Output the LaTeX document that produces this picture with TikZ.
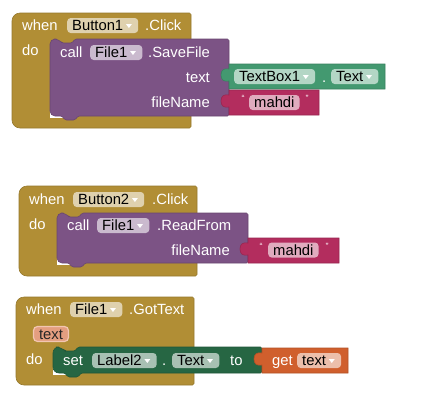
\documentclass[tikz,border=0pt]{standalone}
\usepackage{fontspec}
\setmainfont{Liberation Sans}
\usetikzlibrary{calc}
\definecolor{evgold}{HTML}{B18E35}
\definecolor{procpurple}{HTML}{7C5385}
\definecolor{getgreen}{HTML}{439970}
\definecolor{setgreen}{HTML}{266643}
\definecolor{strmag}{HTML}{B32D5E}
\definecolor{varorange}{HTML}{D05F2D}
\definecolor{chipfill}{HTML}{E49E80}
\definecolor{chipedge}{HTML}{F2C6B2}
\newcommand\ddarr[1]{\fill[white] ($(#1.east)+(-12.5,-1.5)$) -- ++(6,0) -- ++(-3,4) -- cycle;}
\newcommand\ddgap{\kern10pt}
\begin{document}
\begin{tikzpicture}[x=1pt,y=-1pt,
  lbl/.style={text=white, inner sep=0pt, anchor=west, text height=10.6pt, text depth=0pt, font=\fontsize{14.8}{16}\selectfont},
  rlbl/.style={lbl, anchor=east},
  quote/.style={text=white, inner sep=0pt, font=\fontsize{9}{10}\selectfont},
  fld/.style={fill=white, fill opacity=0.6, text opacity=1, text=black, rounded corners=3.5pt, inner xsep=5pt, inner ysep=0pt, minimum height=15pt, text height=10.6pt, text depth=0pt, anchor=west, font=\fontsize{14.8}{16}\selectfont},
  chip/.style={fill=chipfill, draw=chipedge, line width=1.2pt, rounded corners=4pt, text=black!85, inner sep=0pt, minimum width=35pt, minimum height=15pt, text height=10.6pt, text depth=0pt, font=\fontsize{14.8}{16}\selectfont},
  blk/.style={line width=0.6pt},
]
\useasboundingbox (0,0) rectangle (421,400);
\fill[white] (0,0) rectangle (421,400);

% ================= Block 1 =================
\filldraw[blk, fill=evgold, draw=evgold!85!black] [rounded corners=1.5pt] (100,13) -- (191,13) -- (191,128) -- (100,128) [rounded corners=8pt] -- (12,128) -- (12,13) -- cycle;
\fill[white] (50,104) rectangle (66,117.5);
\filldraw[blk, fill=procpurple, draw=procpurple!85!black] [rounded corners=1.5pt] (59,39) -- (62,43) -- (72,43) -- (75,39) -- (229,39) -- (229,116) -- (78,116) -- (75,120) -- (65,120) -- (62,116) [rounded corners=5pt] -- (50,116) -- (50,39) -- cycle;
\filldraw[blk, fill=getgreen, draw=getgreen!85!black] (229,64) -- (385,64) -- (385,89) -- (229,89) -- (229,81) .. controls (224,82) and (221,80) .. (221,75) .. controls (221,70) and (224,68) .. (229,69) -- cycle;
\filldraw[blk, fill=strmag, draw=strmag!85!black] (229,90) -- (319,90) -- (319,115) -- (229,115) -- (229,107) .. controls (224,108) and (221,106) .. (221,101) .. controls (221,96) and (224,94) .. (229,95) -- cycle;

\node[lbl] (w1) at (22,25.5) {when};
\node[fld] (b1) at (67,25.5) {Button1\ddgap}; \ddarr{b1}
\node[lbl] (k1) at (145,25.5) {.Click};
\node[lbl] (d1) at (22,50.5) {do};
\node[lbl] (c1) at (60,52) {call};
\node[fld] (f1) at (90,52.5) {File1\ddgap}; \ddarr{f1}
\node[lbl] (s1) at (148,52) {.SaveFile};
\node[rlbl] (t1) at (210,77) {text};
\node[rlbl] (n1) at (210,102) {fileName};
\node[fld] (tb1) at (234,76.5) {TextBox1\ddgap}; \ddarr{tb1}
\node[lbl] (dot1) at (322,77) {.};
\node[fld] (tx1) at (331,76.5) {Text\ddgap}; \ddarr{tx1}
\node[quote] (q1a) at (243,98) {“};
\node[fld] (m1) at (249,102.5) {mahdi};
\node[quote] (q1b) at (307,98) {”};

% ================= Block 2 =================
\filldraw[blk, fill=evgold, draw=evgold!85!black] [rounded corners=1.5pt] (100,186) -- (197,186) -- (197,276) -- (100,276) [rounded corners=8pt] -- (19,276) -- (19,186) -- cycle;
\fill[white] (57,251) rectangle (73,264.5);
\filldraw[blk, fill=procpurple, draw=procpurple!85!black] [rounded corners=1.5pt] (66,213) -- (69,217) -- (79,217) -- (82,213) -- (248,213) -- (248,263) -- (85,263) -- (82,267) -- (72,267) -- (69,263) [rounded corners=5pt] -- (57,263) -- (57,213) -- cycle;
\filldraw[blk, fill=strmag, draw=strmag!85!black] (248,238) -- (339,238) -- (339,263) -- (248,263) -- (248,255) .. controls (243,256) and (240,254) .. (240,249) .. controls (240,244) and (243,242) .. (248,243) -- cycle;

\node[lbl] (w2) at (29,199.5) {when};
\node[fld] (b2) at (73,199.5) {Button2\ddgap}; \ddarr{b2}
\node[lbl] (k2) at (152,199.5) {.Click};
\node[lbl] (d2) at (29,224.5) {do};
\node[lbl] (c2) at (67,225.5) {call};
\node[fld] (f2) at (97,225.5) {File1\ddgap}; \ddarr{f2}
\node[lbl] (r2) at (157,225.5) {.ReadFrom};
\node[rlbl] (n2) at (230,250.5) {fileName};
\node[quote] (q2a) at (261,246) {“};
\node[fld] (m2) at (268,250) {mahdi};
\node[quote] (q2b) at (327,246) {”};

% ================= Block 3 =================
\filldraw[blk, fill=evgold, draw=evgold!85!black] [rounded corners=1.5pt] (100,297) -- (194,297) -- (194,385) -- (100,385) [rounded corners=8pt] -- (16,385) -- (16,297) -- cycle;
\fill[white] (53,361) rectangle (69,374.5);
\filldraw[blk, fill=setgreen, draw=setgreen!85!black] [rounded corners=1.5pt] (62,347) -- (65,351) -- (75,351) -- (78,347) -- (262,347) -- (262,373) -- (81,373) -- (78,377) -- (68,377) -- (65,373) [rounded corners=6pt] -- (53,373) -- (53,347) -- cycle;
\filldraw[blk, fill=varorange, draw=varorange!85!black] (262,348) -- (348,348) -- (348,373) -- (262,373) -- (262,365) .. controls (257,366) and (254,364) .. (254,359) .. controls (254,354) and (257,352) .. (262,353) -- cycle;

\node[lbl] (w3) at (26,309.5) {when};
\node[fld] (f3) at (70,309.5) {File1\ddgap}; \ddarr{f3}
\node[lbl] (g3) at (129,309.5) {.GotText};
\node[chip] (p3) at (51,334) {text};
\node[lbl] (d3) at (26,359.5) {do};
\node[lbl] (s3) at (63,360) {set};
\node[fld] (l3) at (92,360.5) {Label2\ddgap}; \ddarr{l3}
\node[lbl] (dot3) at (162,360) {.};
\node[fld] (tx3) at (172,360.5) {Text\ddgap}; \ddarr{tx3}
\node[lbl] (to3) at (230,360) {to};
\node[lbl] (ge3) at (272,360) {get};
\node[fld] (v3) at (297,360.5) {text\ddgap}; \ddarr{v3}
\end{tikzpicture}
\end{document}
